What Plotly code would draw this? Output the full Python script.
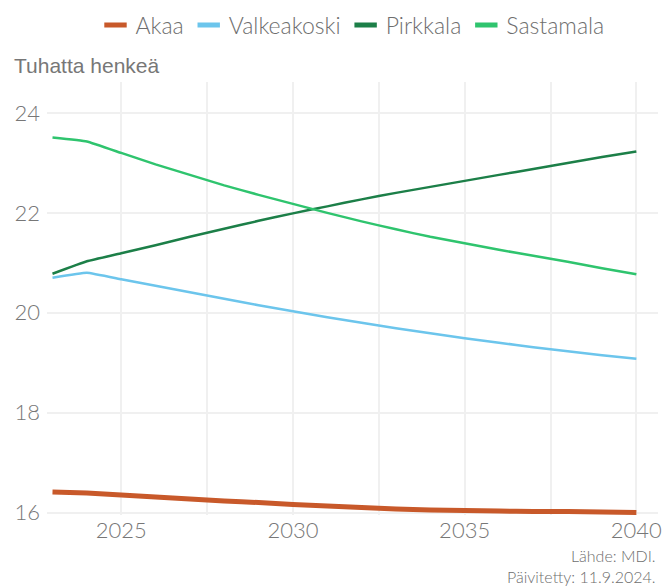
import plotly.graph_objects as go

years = list(range(2023, 2041))
akaa = [16.41, 16.39, 16.35, 16.31, 16.27, 16.23, 16.20, 16.16, 16.13, 16.10, 16.07, 16.05, 16.04, 16.03, 16.02, 16.02, 16.01, 16.00]
valkeakoski = [20.70, 20.80, 20.67, 20.54, 20.41, 20.28, 20.15, 20.03, 19.91, 19.80, 19.69, 19.59, 19.49, 19.40, 19.31, 19.23, 19.15, 19.08]
pirkkala = [20.78, 21.03, 21.19, 21.35, 21.52, 21.68, 21.84, 21.99, 22.13, 22.27, 22.40, 22.52, 22.64, 22.76, 22.88, 23.00, 23.12, 23.23]
sastamala = [23.51, 23.43, 23.20, 22.97, 22.76, 22.55, 22.36, 22.18, 22.00, 21.83, 21.67, 21.52, 21.39, 21.26, 21.14, 21.02, 20.89, 20.77]

series = [
    ("Akaa", akaa, "#c8592a", 5),
    ("Valkeakoski", valkeakoski, "#6cc5ec", 2.5),
    ("Pirkkala", pirkkala, "#1c7f48", 2.5),
    ("Sastamala", sastamala, "#2fc46e", 2.5),
]

fig = go.Figure()
for name, vals, color, w in series:
    fig.add_trace(go.Scatter(x=years, y=vals, mode="lines", name=name,
                             line=dict(color=color, width=w, shape="spline", smoothing=0.3),
                             showlegend=False, hoverinfo="x+y+name"))
for name, vals, color, w in series:
    fig.add_trace(go.Scatter(x=[None], y=[None], mode="markers", name=name,
                             marker=dict(symbol="line-ew", size=18, color=color,
                                         line=dict(color=color, width=6)),
                             showlegend=True))

grid = "#f0f0f0"
fig.update_layout(
    width=662, height=578,
    margin=dict(l=39, r=12, t=74, b=70.5, autoexpand=False),
    paper_bgcolor="white", plot_bgcolor="white",
    font=dict(family="Lato", color="#6e6e6e", size=18, weight=300),
    legend=dict(orientation="h", x=0.5, xanchor="center", y=1.1315, yanchor="middle",
                font=dict(size=23, color="#6e6e6e", weight=300), tracegroupgap=0),
    xaxis=dict(range=[2022.84, 2040.63], tick0=2025, dtick=5, showgrid=True,
               gridcolor=grid, gridwidth=2, zeroline=False, showline=False,
               ticks="", tickfont=dict(size=22, color="#777777", weight=300),
               minor=dict(dtick=2.5, tick0=2025, showgrid=True, gridcolor=grid, gridwidth=2)),
    yaxis=dict(range=[15.95, 24.62], tick0=16, dtick=2, showgrid=True,
               gridcolor=grid, gridwidth=2, zeroline=False, showline=False,
               ticks="", ticklabelstandoff=6,
               tickfont=dict(size=22, color="#777777", weight=300)),
    annotations=[
        dict(text="Tuhatta henkeä", xref="paper", yref="paper", x=-0.0573, y=1.039,
             xanchor="left", yanchor="middle", showarrow=False,
             font=dict(family="Liberation Sans", size=21, color="#777777", weight=400)),
        dict(text="Lähde: MDI.<br>Päivitetty: 11.9.2024.", xref="paper", yref="paper",
             x=1.0, y=-0.1188, xanchor="right", yanchor="middle", align="right",
             showarrow=False, font=dict(size=16, color="#6e6e6e", weight=300)),
    ],
)

fig.write_html("out.html")
